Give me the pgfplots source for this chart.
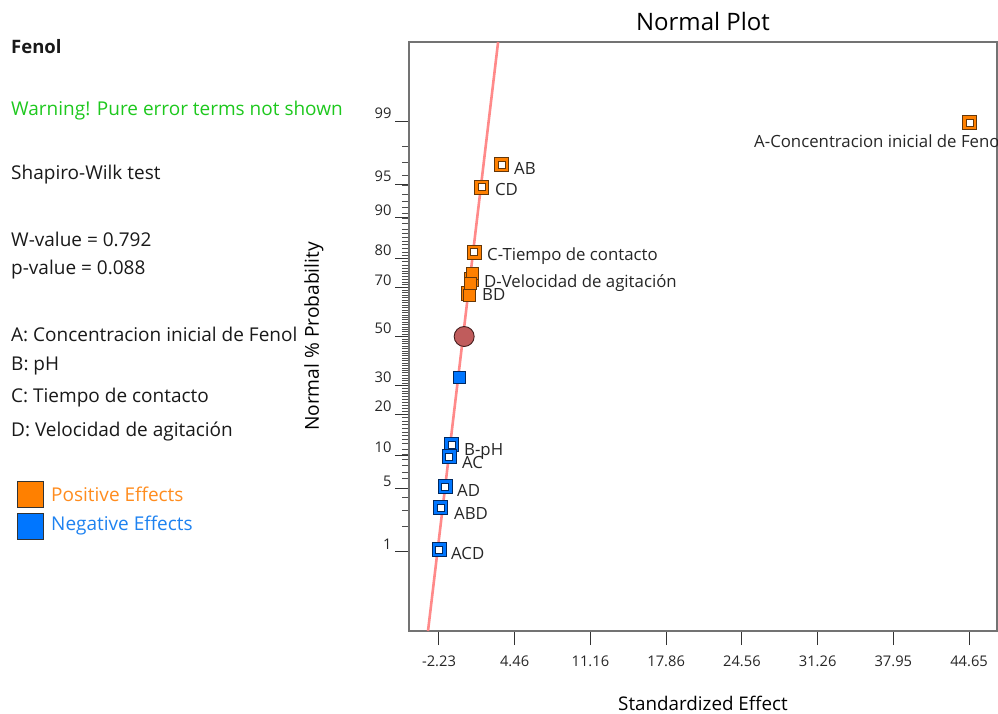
\documentclass[border=0pt]{standalone}
\usepackage{fontspec}
\setmainfont{Open Sans}
\usepackage{pgfplots}
\usepackage{pgfplotstable}
\pgfplotsset{compat=1.18}

\definecolor{orM}{RGB}{255,128,0}
\definecolor{orB}{RGB}{100,55,10}
\definecolor{blM}{RGB}{0,118,255}
\definecolor{blB}{RGB}{0,40,95}
\definecolor{posT}{RGB}{255,140,30}
\definecolor{negT}{RGB}{30,130,240}
\definecolor{warnG}{RGB}{30,200,30}
\definecolor{lineR}{RGB}{255,125,125}
\definecolor{circF}{RGB}{192,92,92}
\definecolor{circB}{RGB}{70,30,30}

% minor tick positions on the normal probability scale (2% ... 98%)
\xdef\minorlist{}
\foreach \p in {2,...,98}{%
  \ifnum\p<50
    \pgfmathparse{-5.5556*(1-(\p/(100-\p))^0.1186)}%
  \else
    \pgfmathparse{5.5556*(1-((100-\p)/\p)^0.1186)}%
  \fi
  \xdef\minorlist{\minorlist\pgfmathresult,}%
}
\edef\setminor{\noexpand\pgfplotsset{probminor/.style={minor ytick={\minorlist 0}}}}
\setminor

% effects: standardized effect, probit of normal % probability
\pgfplotstableread{
x y
44.70 2.310
3.32 1.854
1.55 1.614
0.89 0.911
0.62 0.620
0.38 0.470
}\posSel
\pgfplotstableread{
x y
0.72 0.678
0.57 0.570
0.45 0.443
}\posErr
\pgfplotstableread{
x y
-1.11 -1.17
-1.32 -1.30
-1.70 -1.62
-2.08 -1.85
-2.23 -2.30
}\negSel
\pgfplotstableread{
x y
-0.43 -0.44
}\negErr

\begin{document}
\begin{tikzpicture}
\useasboundingbox (0,0) rectangle (998pt,-713pt);
\begin{axis}[
  at={(409pt,-631pt)}, anchor=south west,
  scale only axis, width=588pt, height=589pt,
  xmin=-4.88, xmax=47.12, ymin=-3.18, ymax=3.18,
  clip=false,
  axis line style={draw=black!55, line width=1.5pt},
  tick align=outside,
  major tick length=14pt, minor tick length=7pt,
  every tick/.style={draw=black!80, line width=1pt},
  minor tick style={draw=black!70, line width=0.7pt},
  xtick={-2.23,4.46,11.16,17.86,24.56,31.26,37.95,44.65},
  xticklabels={-2.23,4.46,11.16,17.86,24.56,31.26,37.95,44.65},
  ytick={-2.3263,-1.6449,-1.2816,-0.8416,-0.5244,0,0.5244,0.8416,1.2816,1.6449,2.3263},
  yticklabels={1,5,10,20,30,50,70,80,90,95,99},
  probminor,
  xtick pos=bottom, ytick pos=left,
  xticklabel style={font=\fontsize{14.7}{17}\selectfont, text=black!85, yshift=-7pt},
  yticklabel style={font=\fontsize{14.7}{17}\selectfont, text=black!85, yshift=8pt},
  title={Normal Plot},
  every axis title/.style={at={(axis description cs:0.5,1.034)}, anchor=center, font=\fontsize{24}{28}\selectfont},
  xlabel={Standardized Effect},
  ylabel={Normal \% Probability},
  every axis x label/.style={at={(axis description cs:0.5,-0.1222)}, anchor=center, font=\fontsize{18.8}{22}\selectfont},
  every axis y label/.style={at={(axis description cs:-0.1616,0.5)}, anchor=center, rotate=90, font=\fontsize{19.2}{22}\selectfont},
]
\addplot[draw=lineR, line width=2.6pt, opacity=0.9] coordinates {(-3.20,-3.18) (3.00,3.18)};

\addplot[only marks, mark=square*, mark size=7pt, mark options={fill=orM, draw=orB, line width=0.9pt}] table {\posSel};
\addplot[only marks, mark=square*, mark size=3.6pt, mark options={fill=white, draw=orB, line width=0.8pt}] table {\posSel};
\addplot[only marks, mark=square*, mark size=6.2pt, mark options={fill=orM, draw=orB, line width=0.9pt}] table {\posErr};

\addplot[only marks, mark=square*, mark size=7pt, mark options={fill=blM, draw=blB, line width=0.9pt}] table {\negSel};
\addplot[only marks, mark=square*, mark size=3.6pt, mark options={fill=white, draw=blB, line width=0.8pt}] table {\negSel};
\addplot[only marks, mark=square*, mark size=5.8pt, mark options={fill=blM, draw=blB, line width=0.9pt}] table {\negErr};

\addplot[only marks, mark=*, mark size=10pt, mark options={fill=circF, draw=circB, line width=0.9pt}] coordinates {(0,0)};

\begin{scope}[every node/.style={anchor=west, inner sep=0pt, font=\fontsize{16.8}{20}\selectfont, text=black!85}]
\node at (axis cs:25.63,2.114) {A-Concentracion inicial de Fenol};
\node at (axis cs:4.40,1.811) {AB};
\node at (axis cs:2.72,1.584) {CD};
\node at (axis cs:2.015,0.870) {C-Tiempo de contacto};
\node at (axis cs:1.75,0.578) {D-Velocidad de agitación};
\node at (axis cs:1.57,0.449) {BD};
\node at (axis cs:-0.019,-1.238) {B-pH};
\node at (axis cs:-0.196,-1.357) {AC};
\node at (axis cs:-0.638,-1.659) {AD};
\node at (axis cs:-0.903,-1.908) {ABD};
\node at (axis cs:-1.169,-2.341) {ACD};
\end{scope}
\end{axis}

\begin{scope}[every node/.style={anchor=west, inner sep=0pt, font=\fontsize{19}{22}\selectfont, text=black!90}]
\node[font=\fontsize{18.5}{22}\selectfont\bfseries] at (11pt,-47pt) {Fenol};
\node[text=warnG] at (11pt,-111pt) {Warning! Pure error terms not shown};
\node at (11pt,-175pt) {Shapiro-Wilk test};
\node at (11pt,-239pt) {W-value = 0.792};
\node at (11pt,-270pt) {p-value = 0.088};
\node at (11pt,-334pt) {A: Concentracion inicial de Fenol};
\node at (11pt,-366pt) {B: pH};
\node at (11pt,-398pt) {C: Tiempo de contacto};
\node at (11pt,-431pt) {D: Velocidad de agitación};
\node[text=posT] at (51pt,-494pt) {Positive Effects};
\node[text=negT] at (51pt,-526pt) {Negative Effects};
\end{scope}
\draw[fill=orM, draw=black!80, line width=1pt] (17pt,-481pt) rectangle (43pt,-507pt);
\draw[fill=blM, draw=black!80, line width=1pt] (17pt,-513pt) rectangle (43pt,-539pt);
\end{tikzpicture}
\end{document}
